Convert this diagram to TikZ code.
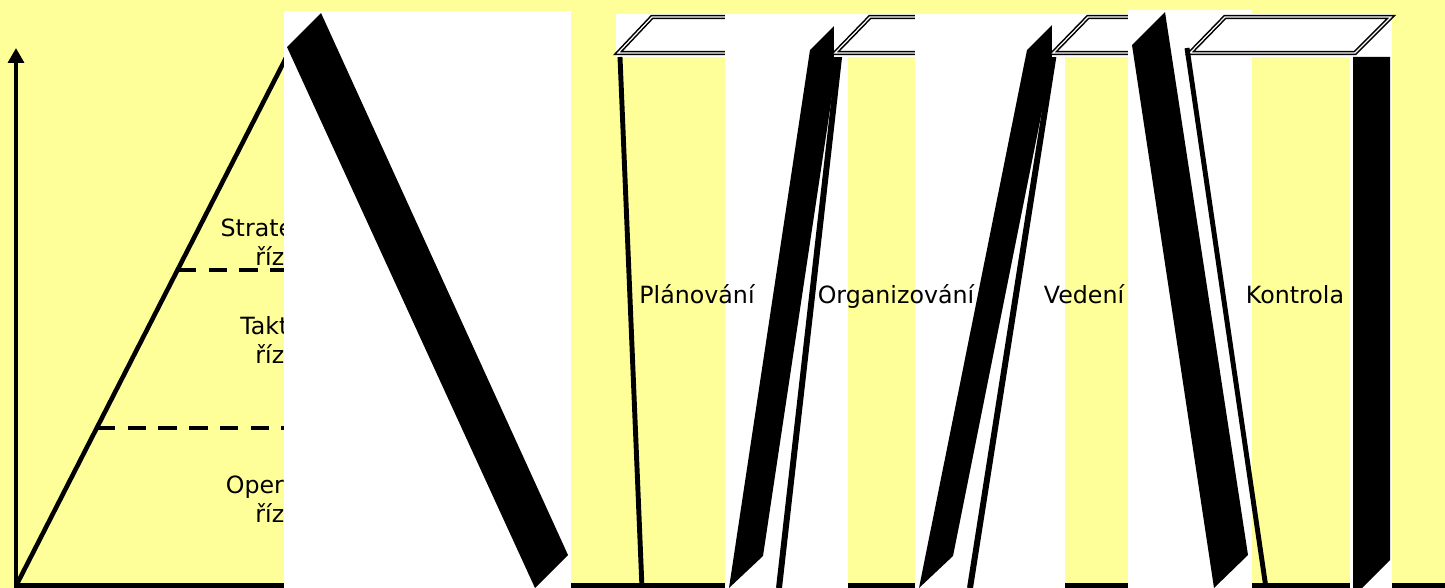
\documentclass[tikz,border=0pt]{standalone}
\usepackage{fontspec}
\setmainfont{DejaVu Sans}
\usetikzlibrary{arrows.meta}
\definecolor{paper}{HTML}{FFFF99}

\begin{document}
\begin{tikzpicture}[
  x=0.02cm, y=-0.02cm,
  >={Triangle[width=9pt, length=8.5pt]},
  axis/.style={line width=2.8pt},
  level/.style={line width=2.4pt, dash pattern=on 10.5pt off 7pt},
  panel/.style={fill=white},
  bar/.style={fill=black},
  rail/.style={line width=3.4pt},
  lid/.style={draw=black, double=white, line width=0.9pt, double distance=0.7pt, line join=miter},
  lbl/.style={font=\fontsize{13.5}{16.2}\selectfont, align=center, anchor=base, inner sep=0pt}
]

% Background
\useasboundingbox (0,0) rectangle (1445,588);
\fill[paper] (0,0) rectangle (1445,588);

% Axes
\coordinate (origin) at (16,585.5);
\coordinate (ytop) at (16,48);
\coordinate (xend) at (1445,585.5);
\draw[axis, ->] (16,588) -- (ytop);
\draw[axis] (origin) -- (xend);

% Pyramid edge and the two level lines
\coordinate (base) at (17,584);
\coordinate (apex) at (290,50);
\draw[line width=2.6pt] (base) -- (apex);
\draw[level] (178,270) -- (290,270);
\draw[level] (97,428) -- (290,428);

\node[lbl] (strat) at (288,265) {Strategické\\řízení};
\node[lbl] (takt) at (288,363) {Taktické\\řízení};
\node[lbl] (oper) at (288,522) {Operativní\\řízení};

% First panel with its bar
\fill[panel] (284,11) rectangle (571,588);
\fill[bar] (287,47) -- (321,13) -- (568,555) -- (535,588) -- cycle;

% Planning column
\fill[panel] (616,14) rectangle (725,57);
\draw[lid] (618,53) -- (652,17) -- (817,17) -- (783,53) -- cycle;
\draw[axis] (620,57) -- (642,588);

\fill[panel] (725,14) rectangle (848,588);
\fill[bar] (810,50) -- (844,16) -- (763,556) -- (729,588) -- cycle;
\draw[rail] (779,588) -- (841,40);

% Organising column
\fill[panel] (834,14) rectangle (915,57);
\draw[lid] (835,53) -- (870,17) -- (1035,17) -- (1000,53) -- cycle;

\fill[panel] (915,14) rectangle (1065,588);
\fill[bar] (1027,50) -- (1061,16) -- (953,556) -- (919,588) -- cycle;
\draw[rail] (970,588) -- (1056,40);

% Leading column
\fill[panel] (1052,14) rectangle (1128,57);
\draw[lid] (1053,53) -- (1088,17) -- (1253,17) -- (1218,53) -- cycle;

\fill[panel] (1128,10) rectangle (1252,588);
\fill[bar] (1132,45) -- (1165,12) -- (1248,555) -- (1214,588) -- cycle;

% Control column
\fill[panel] (1178,14) rectangle (1392,57);
\draw[lid] (1190,53) -- (1225,17) -- (1391,17) -- (1355,53) -- cycle;
\draw[rail, line width=2.8pt] (1187,48) -- (1266,588);

\fill[panel] (1350,57) rectangle (1392,588);
\fill[bar] (1353,57) -- (1390,57) -- (1390,560) -- (1362,588) -- (1353,588) -- cycle;

% Function labels
\node[lbl] (plan) at (697,303) {Plánování};
\node[lbl] (org) at (896,303) {Organizování};
\node[lbl] (ved) at (1084,303) {Vedení};
\node[lbl] (kontr) at (1295,303) {Kontrola};

\end{tikzpicture}
\end{document}
